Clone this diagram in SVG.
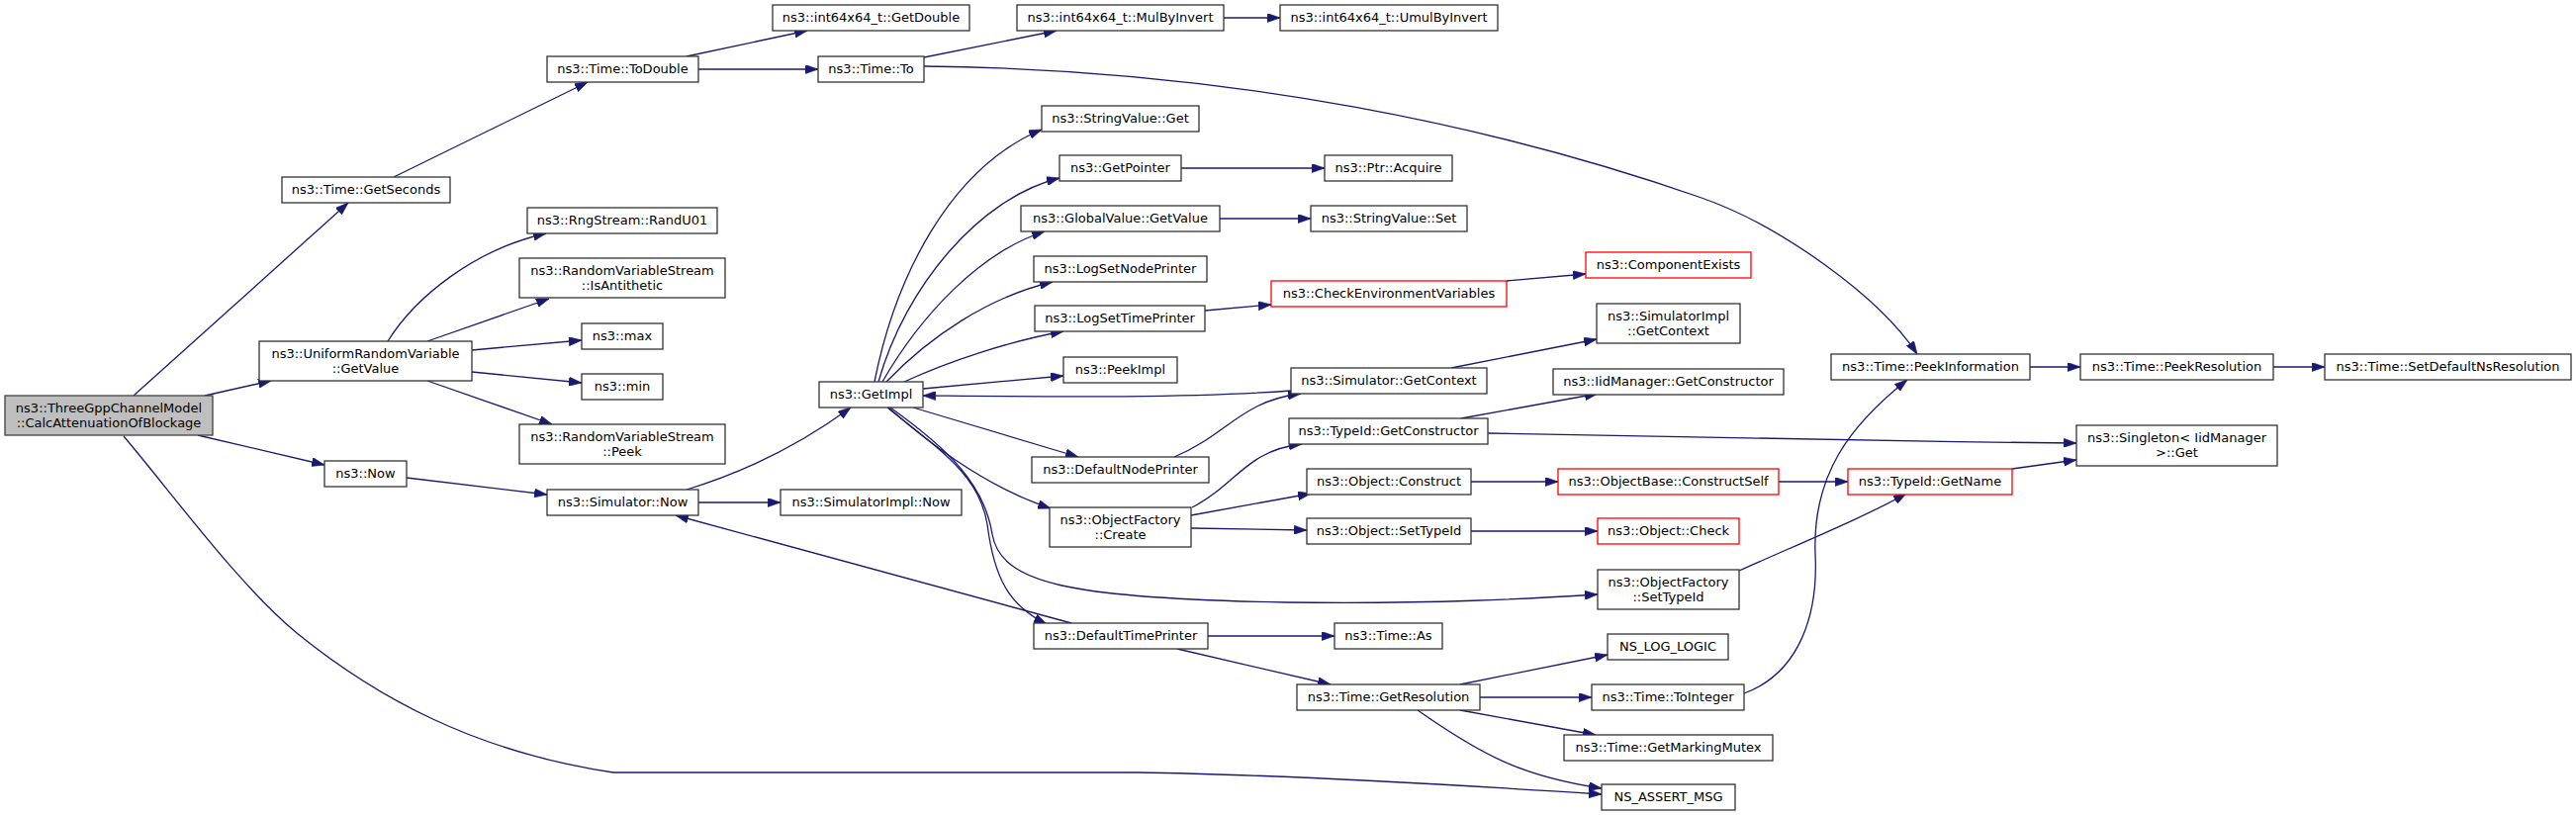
<svg xmlns="http://www.w3.org/2000/svg" width="2604" height="825" viewBox="0 0 2604 825">
<style>
rect{fill:#fff;stroke:#333;stroke-width:1.3}
.root rect{fill:#bfbfbf;stroke:#404040}
.red rect{stroke:#ff0000}
text{font-family:"DejaVu Sans","Liberation Sans",sans-serif;font-size:13px;text-anchor:middle;fill:#000}
#edges path{fill:none;stroke:#191970;stroke-width:1.3;marker-end:url(#arr)}
</style>
<defs>
<marker id="arr" viewBox="0 0 10 7" refX="10" refY="3.5" markerWidth="13" markerHeight="9" markerUnits="userSpaceOnUse" orient="auto">
<path d="M0,0 L10,3.5 L0,7 z" fill="#191970" stroke="#191970" stroke-width="0.5"/>
</marker>
</defs>
<rect x="0" y="0" width="2604" height="825" style="fill:#fff;stroke:none"/>
<g id="edges">
<path d="M135,400 L352,205"/>
<path d="M207,400 L274,385"/>
<path d="M200,440 L328,470"/>
<path d="M125,441 C175,500 240,590 300,640 C380,705 480,760 620,781 L1150,781 C1300,783 1480,794 1619,803"/>
<path d="M398,179 L594,83"/>
<path d="M694,57 L816,31"/>
<path d="M706,70 L827,70"/>
<path d="M934,58 L1068,31"/>
<path d="M1237,18 L1294,18"/>
<path d="M934,67 C1250,70 1520,130 1720,200 C1800,228 1900,300 1938,358"/>
<path d="M392,345 C420,300 480,252 552,236"/>
<path d="M432,345 L555,302"/>
<path d="M477,354 L588,344"/>
<path d="M477,376 L588,387"/>
<path d="M432,385 L558,429"/>
<path d="M411,483 L553,500"/>
<path d="M694,495 C760,475 815,445 860,412"/>
<path d="M706,508 L789,508"/>
<path d="M1083,630 L683,521"/>
<path d="M884,386 C905,280 960,170 1053,131"/>
<path d="M888,386 C915,290 990,200 1071,180"/>
<path d="M892,386 C930,320 990,255 1056,234"/>
<path d="M896,386 C940,340 1000,300 1064,285"/>
<path d="M914,386 C960,365 1020,345 1075,335"/>
<path d="M933,393 L1075,380"/>
<path d="M1305,395 C1200,403 1050,401 933,400"/>
<path d="M923,412 L1090,462"/>
<path d="M898,412 C930,440 990,490 1062,514"/>
<path d="M900,412 C960,455 995,490 1003,540 C1012,590 1080,605 1300,609 C1450,611 1550,605 1615,601"/>
<path d="M897,412 C950,455 990,480 998,530 C1005,585 1020,612 1058,631"/>
<path d="M1187,462 C1240,440 1255,405 1315,398"/>
<path d="M1221,643 L1349,643"/>
<path d="M1190,656 L1345,692"/>
<path d="M1194,170 L1339,170"/>
<path d="M1233,221 L1325,221"/>
<path d="M1218,314 L1285,308"/>
<path d="M1523,284 L1603,277"/>
<path d="M1467,372 L1614,343"/>
<path d="M1205,513 C1250,490 1260,455 1316,449"/>
<path d="M1204,521 L1325,499"/>
<path d="M1204,534 L1321,536"/>
<path d="M1477,423 L1615,398"/>
<path d="M1504,438 C1700,443 1900,446 2099,448"/>
<path d="M1487,487 L1575,487"/>
<path d="M1798,487 L1868,487"/>
<path d="M1487,537 L1615,537"/>
<path d="M1758,577 C1830,545 1890,520 1927,499"/>
<path d="M2034,474 L2099,465"/>
<path d="M2052,371 L2103,371"/>
<path d="M2298,371 L2350,371"/>
<path d="M1763,701 C1820,680 1838,620 1835,560 C1832,480 1870,430 1928,384"/>
<path d="M1476,692 L1625,662"/>
<path d="M1496,705 L1609,705"/>
<path d="M1476,718 L1613,743"/>
<path d="M1433,718 C1500,765 1540,785 1619,797"/>
</g>
<g id="n0" class="root"><rect x="5" y="400" width="210" height="40"/><text x="110" y="416.5">ns3::ThreeGppChannelModel</text><text x="110" y="431.5">::CalcAttenuationOfBlockage</text></g>
<g id="n1"><rect x="285" y="179" width="170" height="26"/><text x="370" y="196">ns3::Time::GetSeconds</text></g>
<g id="n2"><rect x="262" y="345" width="215" height="40"/><text x="369.5" y="361.5">ns3::UniformRandomVariable</text><text x="369.5" y="376.5">::GetValue</text></g>
<g id="n3"><rect x="328" y="466" width="83" height="26"/><text x="369.5" y="483">ns3::Now</text></g>
<g id="n4"><rect x="553" y="57" width="153" height="26"/><text x="629.5" y="74">ns3::Time::ToDouble</text></g>
<g id="n5"><rect x="533" y="210" width="192" height="26"/><text x="629" y="227">ns3::RngStream::RandU01</text></g>
<g id="n6"><rect x="525" y="261" width="208" height="40"/><text x="629" y="277.5">ns3::RandomVariableStream</text><text x="629" y="292.5">::IsAntithetic</text></g>
<g id="n7"><rect x="588" y="327" width="82" height="26"/><text x="629" y="344">ns3::max</text></g>
<g id="n8"><rect x="588" y="378" width="82" height="26"/><text x="629" y="395">ns3::min</text></g>
<g id="n9"><rect x="525" y="429" width="208" height="40"/><text x="629" y="445.5">ns3::RandomVariableStream</text><text x="629" y="460.5">::Peek</text></g>
<g id="n10"><rect x="553" y="495" width="153" height="26"/><text x="629.5" y="512">ns3::Simulator::Now</text></g>
<g id="n11"><rect x="781" y="5" width="199" height="26"/><text x="880.5" y="22">ns3::int64x64_t::GetDouble</text></g>
<g id="n12"><rect x="827" y="57" width="107" height="26"/><text x="880.5" y="74">ns3::Time::To</text></g>
<g id="n13"><rect x="828" y="386" width="105" height="26"/><text x="880.5" y="403">ns3::GetImpl</text></g>
<g id="n14"><rect x="789" y="495" width="183" height="26"/><text x="880.5" y="512">ns3::SimulatorImpl::Now</text></g>
<g id="n15"><rect x="1028" y="5" width="209" height="26"/><text x="1132.5" y="22">ns3::int64x64_t::MulByInvert</text></g>
<g id="n16"><rect x="1053" y="107" width="159" height="26"/><text x="1132.5" y="124">ns3::StringValue::Get</text></g>
<g id="n17"><rect x="1071" y="157" width="123" height="26"/><text x="1132.5" y="174">ns3::GetPointer</text></g>
<g id="n18"><rect x="1032" y="208" width="201" height="26"/><text x="1132.5" y="225">ns3::GlobalValue::GetValue</text></g>
<g id="n19"><rect x="1045" y="259" width="175" height="26"/><text x="1132.5" y="276">ns3::LogSetNodePrinter</text></g>
<g id="n20"><rect x="1046" y="309" width="172" height="26"/><text x="1132" y="326">ns3::LogSetTimePrinter</text></g>
<g id="n21"><rect x="1075" y="361" width="115" height="26"/><text x="1132.5" y="378">ns3::PeekImpl</text></g>
<g id="n22"><rect x="1043" y="462" width="179" height="26"/><text x="1132.5" y="479">ns3::DefaultNodePrinter</text></g>
<g id="n23"><rect x="1061" y="513" width="143" height="40"/><text x="1132.5" y="529.5">ns3::ObjectFactory</text><text x="1132.5" y="544.5">::Create</text></g>
<g id="n24"><rect x="1045" y="630" width="176" height="26"/><text x="1133" y="647">ns3::DefaultTimePrinter</text></g>
<g id="n25"><rect x="1294" y="5" width="220" height="26"/><text x="1404" y="22">ns3::int64x64_t::UmulByInvert</text></g>
<g id="n26"><rect x="1339" y="157" width="129" height="26"/><text x="1403.5" y="174">ns3::Ptr::Acquire</text></g>
<g id="n27"><rect x="1325" y="208" width="158" height="26"/><text x="1404" y="225">ns3::StringValue::Set</text></g>
<g id="n28" class="red"><rect x="1285" y="284" width="238" height="26"/><text x="1404" y="301">ns3::CheckEnvironmentVariables</text></g>
<g id="n29"><rect x="1305" y="372" width="198" height="26"/><text x="1404" y="389">ns3::Simulator::GetContext</text></g>
<g id="n30"><rect x="1303" y="423" width="201" height="26"/><text x="1403.5" y="440">ns3::TypeId::GetConstructor</text></g>
<g id="n31"><rect x="1321" y="474" width="166" height="26"/><text x="1404" y="491">ns3::Object::Construct</text></g>
<g id="n32"><rect x="1321" y="524" width="166" height="26"/><text x="1404" y="541">ns3::Object::SetTypeId</text></g>
<g id="n33"><rect x="1349" y="630" width="109" height="26"/><text x="1403.5" y="647">ns3::Time::As</text></g>
<g id="n34"><rect x="1311" y="692" width="185" height="26"/><text x="1403.5" y="709">ns3::Time::GetResolution</text></g>
<g id="n35" class="red"><rect x="1603" y="255" width="167" height="26"/><text x="1686.5" y="272">ns3::ComponentExists</text></g>
<g id="n36"><rect x="1614" y="307" width="145" height="40"/><text x="1686.5" y="323.5">ns3::SimulatorImpl</text><text x="1686.5" y="338.5">::GetContext</text></g>
<g id="n37"><rect x="1570" y="373" width="233" height="26"/><text x="1686.5" y="390">ns3::IidManager::GetConstructor</text></g>
<g id="n38" class="red"><rect x="1575" y="474" width="223" height="26"/><text x="1686.5" y="491">ns3::ObjectBase::ConstructSelf</text></g>
<g id="n39" class="red"><rect x="1615" y="524" width="143" height="26"/><text x="1686.5" y="541">ns3::Object::Check</text></g>
<g id="n40"><rect x="1615" y="576" width="143" height="40"/><text x="1686.5" y="592.5">ns3::ObjectFactory</text><text x="1686.5" y="607.5">::SetTypeId</text></g>
<g id="n41"><rect x="1625" y="641" width="122" height="26"/><text x="1686" y="658">NS_LOG_LOGIC</text></g>
<g id="n42"><rect x="1609" y="692" width="154" height="26"/><text x="1686" y="709">ns3::Time::ToInteger</text></g>
<g id="n43"><rect x="1581" y="743" width="211" height="26"/><text x="1686.5" y="760">ns3::Time::GetMarkingMutex</text></g>
<g id="n44"><rect x="1619" y="793" width="135" height="26"/><text x="1686.5" y="810">NS_ASSERT_MSG</text></g>
<g id="n45"><rect x="1851" y="358" width="201" height="26"/><text x="1951.5" y="375">ns3::Time::PeekInformation</text></g>
<g id="n46" class="red"><rect x="1868" y="474" width="166" height="26"/><text x="1951" y="491">ns3::TypeId::GetName</text></g>
<g id="n47"><rect x="2103" y="358" width="195" height="26"/><text x="2200.5" y="375">ns3::Time::PeekResolution</text></g>
<g id="n48"><rect x="2099" y="430" width="203" height="41"/><text x="2200.5" y="447">ns3::Singleton&lt; IidManager</text><text x="2200.5" y="462">&gt;::Get</text></g>
<g id="n49"><rect x="2350" y="358" width="249" height="26"/><text x="2474.5" y="375">ns3::Time::SetDefaultNsResolution</text></g>
</svg>
